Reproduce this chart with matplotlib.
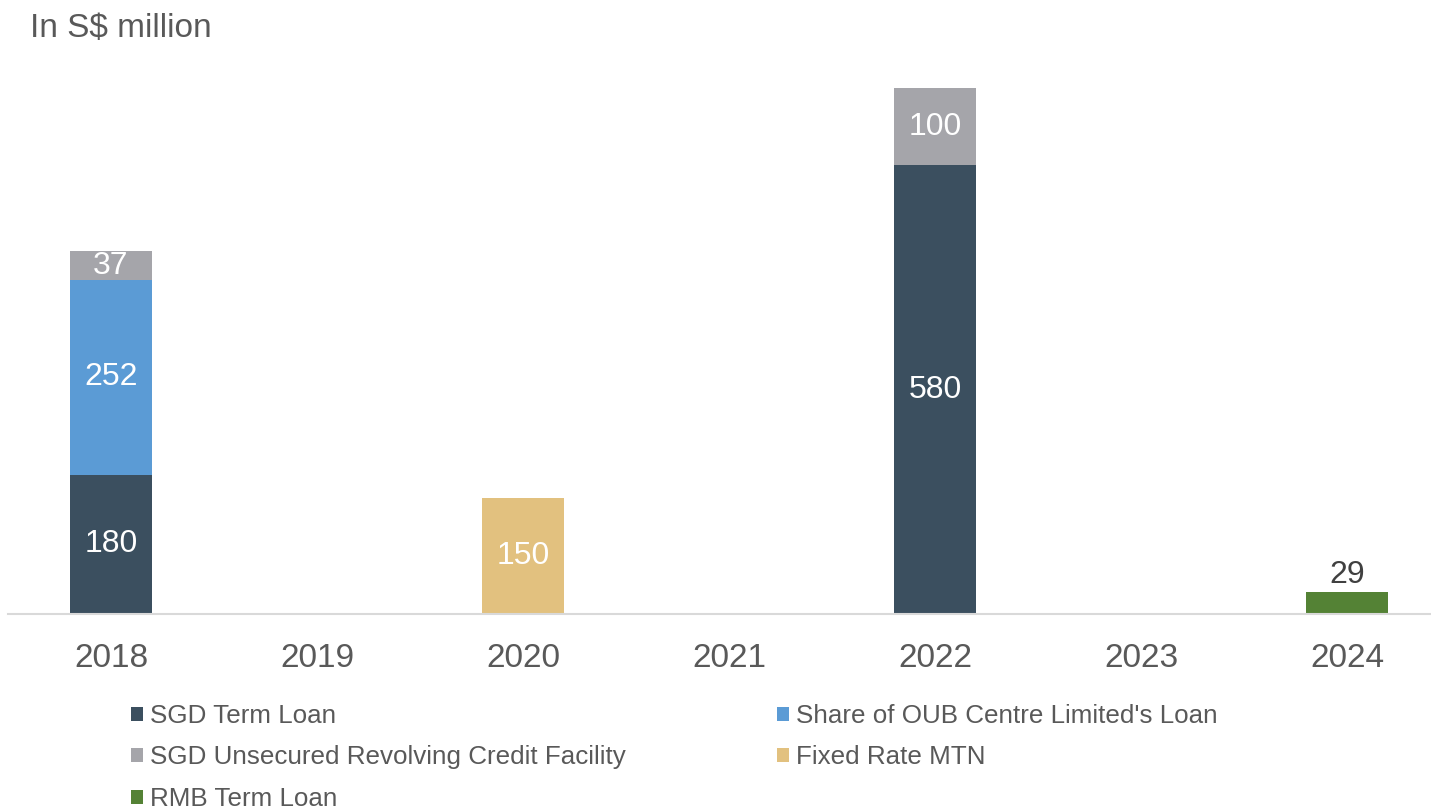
import matplotlib
matplotlib.use("Agg")
import matplotlib.pyplot as plt
import numpy as np

plt.rcParams['font.family'] = ['Liberation Sans', 'DejaVu Sans']

years = ["2018", "2019", "2020", "2021", "2022", "2023", "2024"]
sgd_term = [180, 0, 0, 0, 580, 0, 0]
oub_share = [252, 0, 0, 0, 0, 0, 0]
sgd_rcf = [37, 0, 0, 0, 100, 0, 0]
fixed_mtn = [0, 0, 150, 0, 0, 0, 0]
rmb_term = [0, 0, 0, 0, 0, 0, 29]

series = [
    ("SGD Term Loan", sgd_term, "#3B4F5F"),
    ("Share of OUB Centre Limited's Loan", oub_share, "#5B9BD5"),
    ("SGD Unsecured Revolving Credit Facility", sgd_rcf, "#A5A5AA"),
    ("Fixed Rate MTN", fixed_mtn, "#E2C17F"),
    ("RMB Term Loan", rmb_term, "#548235"),
]

W, H = 1431, 810
fig = plt.figure(figsize=(W/100, H/100), dpi=100)
ax = fig.add_axes([8/W, (H-614)/H, 1 - 8/W, (614-72.5)/H])

x = np.arange(len(years))
bottom = np.zeros(len(years))
handles = {}
txtcol = "#595959"
for name, vals, col in series:
    v = np.array(vals, dtype=float)
    b = ax.bar(x, v, width=0.4, bottom=bottom, color=col, label=name, zorder=2)
    handles[name] = b
    for i, val in enumerate(v):
        if val <= 0:
            continue
        if name == "RMB Term Loan":
            ax.text(x[i], bottom[i] + val + 2, f"{int(val)}", ha='center', va='bottom',
                    fontsize=23, color="#404040")
        else:
            ax.text(x[i], bottom[i] + val/2, f"{int(val)}", ha='center', va='center',
                    fontsize=23, color="white")
    bottom += v

ax.set_xlim(-0.5, 6.408)
ax.set_ylim(0, 700)
ax.set_yticks([])
for s in ["top", "right", "left"]:
    ax.spines[s].set_visible(False)
ax.spines["bottom"].set_color("#D9D9D9")
ax.spines["bottom"].set_linewidth(1.5)
ax.set_xticks(x)
ax.set_xticklabels(years, fontsize=24, color=txtcol)
ax.tick_params(axis='x', length=0, pad=21)

fig.text(30/W, 1 - 29/H, "In S$ million", fontsize=24, color=txtcol, ha='left', va='center')

kw = dict(frameon=False, fontsize=18.7, handlelength=0.45, handleheight=0.45,
          handletextpad=0.3, labelspacing=0.67, borderpad=0, borderaxespad=0,
          labelcolor=txtcol)
col1 = ["SGD Term Loan", "SGD Unsecured Revolving Credit Facility", "RMB Term Loan"]
col2 = ["Share of OUB Centre Limited's Loan", "Fixed Rate MTN"]
leg1 = fig.legend([handles[n] for n in col1], col1, loc='upper left',
                  bbox_to_anchor=(131/W, 1 - 704/H), **kw)
leg2 = fig.legend([handles[n] for n in col2], col2, loc='upper left',
                  bbox_to_anchor=(777/W, 1 - 704/H), **kw)

fig.savefig("out.png", dpi=100, facecolor="white")
